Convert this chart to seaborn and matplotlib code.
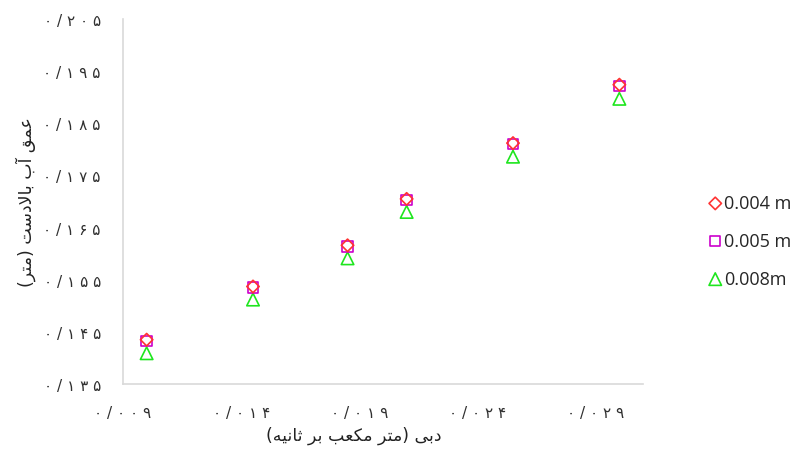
import seaborn as sns
import matplotlib.pyplot as plt
import pandas as pd

# discharge (m3/s) and upstream depth (m) for the three cases
flow = [0.0100, 0.0145, 0.0185, 0.0210, 0.0255, 0.0300]
depth_004 = [0.1435, 0.1537, 0.1616, 0.1705, 0.1812, 0.1924]
depth_005 = [0.1433, 0.1535, 0.1614, 0.1703, 0.1810, 0.1922]
depth_008 = [0.1409, 0.1512, 0.1591, 0.1680, 0.1786, 0.1897]
series_names = ['0.004 m', '0.005 m', '0.008m']

x_ticks = [0.009, 0.014, 0.019, 0.024, 0.029]
y_ticks = [0.135, 0.145, 0.155, 0.165, 0.175, 0.185, 0.195, 0.205]

x_title = 'دبی (متر مکعب بر ثانیه)'
y_title = 'عمق آب بالادست (متر)'


# matplotlib has no arabic shaping, so pick the presentation forms by hand
FORMS = {
    'ا': ('\uFE8D', '\uFE8E', None, None),
    'آ': ('\uFE81', '\uFE82', None, None),
    'د': ('\uFEA9', '\uFEAA', None, None),
    'ر': ('\uFEAD', '\uFEAE', None, None),
    '\uFEFB': ('\uFEFB', '\uFEFC', None, None),
    'ب': ('\uFE8F', '\uFE90', '\uFE91', '\uFE92'),
    'ت': ('\uFE95', '\uFE96', '\uFE97', '\uFE98'),
    'ث': ('\uFE99', '\uFE9A', '\uFE9B', '\uFE9C'),
    'س': ('\uFEB1', '\uFEB2', '\uFEB3', '\uFEB4'),
    'ع': ('\uFEC9', '\uFECA', '\uFECB', '\uFECC'),
    'ق': ('\uFED5', '\uFED6', '\uFED7', '\uFED8'),
    'ک': ('\uFED9', '\uFEDA', '\uFEDB', '\uFEDC'),
    'ل': ('\uFEDD', '\uFEDE', '\uFEDF', '\uFEE0'),
    'م': ('\uFEE1', '\uFEE2', '\uFEE3', '\uFEE4'),
    'ن': ('\uFEE5', '\uFEE6', '\uFEE7', '\uFEE8'),
    'ه': ('\uFEE9', '\uFEEA', '\uFEEB', '\uFEEC'),
    'ی': ('\uFEEF', '\uFEF0', '\uFEF3', '\uFEF4'),
}
DUAL = {k for k, v in FORMS.items() if v[2] is not None}


def shape(text):
    chars = list(text.replace('لا', '\uFEFB'))
    out = []
    for i, c in enumerate(chars):
        if c not in FORMS:
            out.append(c)
            continue
        prev = chars[i - 1] if i > 0 else ''
        nxt = chars[i + 1] if i + 1 < len(chars) else ''
        join_prev = prev in DUAL
        join_next = c in DUAL and nxt in FORMS
        if join_prev and join_next:
            out.append(FORMS[c][3])
        elif join_prev:
            out.append(FORMS[c][1])
        elif join_next:
            out.append(FORMS[c][2])
        else:
            out.append(FORMS[c][0])
    mirror = {'(': ')', ')': '('}
    return ''.join(mirror.get(c, c) for c in reversed(out))


def fa_num(v):
    s = f'{v:.3f}'.translate(str.maketrans('0123456789.', '۰۱۲۳۴۵۶۷۸۹/'))
    return ' '.join(s)


df = pd.DataFrame({
    'flow': flow * 3,
    'depth': depth_004 + depth_005 + depth_008,
    'case': [series_names[0]] * 6 + [series_names[1]] * 6 + [series_names[2]] * 6,
})

sns.set_style('white')
plt.rcParams['font.family'] = ['Open Sans', 'DejaVu Sans']

fig = plt.figure(figsize=(7.98, 4.64), dpi=100)
ax = fig.add_axes([123 / 798, 1 - 385 / 464, 520 / 798, 365 / 464])

styles = {
    '0.004 m': ('D', '#FF3333', 40, 3),
    '0.005 m': ('s', '#CC00CC', 56, 2),
    '0.008m': ('^', '#1EE61E', 81, 1),
}
for name in series_names:
    m, c, s, z = styles[name]
    sub = df[df['case'] == name]
    sns.scatterplot(data=sub, x='flow', y='depth', marker=m, color=c,
                    facecolors='none', edgecolor=c, linewidth=1.2, s=s,
                    label=name, zorder=z, ax=ax)

ax.set_xlim(0.009, 0.031)
ax.set_ylim(0.135, 0.205)
ax.set_xticks(x_ticks)
ax.set_yticks(y_ticks)
ax.set_xticklabels([fa_num(v) for v in x_ticks], fontfamily='DejaVu Sans', fontsize=11, color='#303030')
ax.set_yticklabels([fa_num(v) for v in y_ticks], fontfamily='DejaVu Sans', fontsize=11, color='#303030')
ax.tick_params(axis='x', length=0, pad=15)
ax.tick_params(axis='y', length=0, pad=16)

for side in ['top', 'right']:
    ax.spines[side].set_visible(False)
for side in ['left', 'bottom']:
    ax.spines[side].set_color('#D9D9D9')
    ax.spines[side].set_linewidth(1.2)

ax.set_xlabel(shape(x_title), fontfamily='DejaVu Sans', fontsize=12.5, color='#222222')
ax.set_ylabel(shape(y_title), fontfamily='DejaVu Sans', fontsize=12.5, color='#222222')
ax.xaxis.set_label_coords(0.444, -0.115)
ax.yaxis.set_label_coords(-0.168, 0.5)

ax.legend(loc='center left', bbox_to_anchor=(699 / 798, 1 - 242 / 464),
          bbox_transform=fig.transFigure, frameon=False, fontsize=13,
          handlelength=0.8, handletextpad=0.1, labelspacing=1.1, borderpad=0)

plt.savefig('out.png', dpi=100)
